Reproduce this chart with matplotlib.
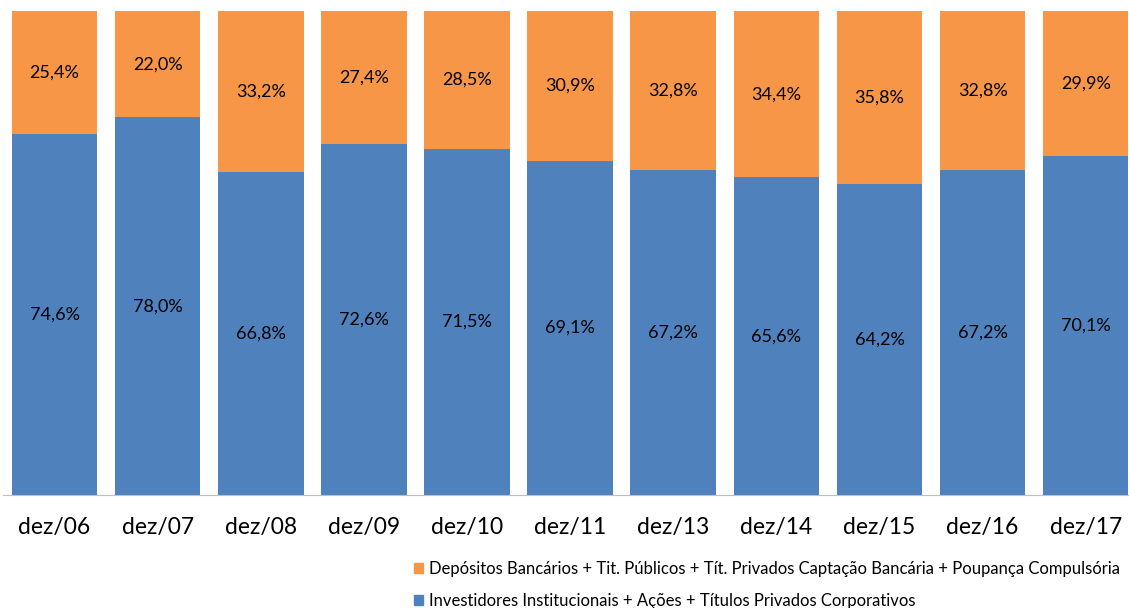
import matplotlib
matplotlib.use("Agg")
import matplotlib.pyplot as plt
from matplotlib.patches import Patch

categories = ["dez/06", "dez/07", "dez/08", "dez/09", "dez/10", "dez/11",
              "dez/13", "dez/14", "dez/15", "dez/16", "dez/17"]
investidores = [74.6, 78.0, 66.8, 72.6, 71.5, 69.1, 67.2, 65.6, 64.2, 67.2, 70.1]
depositos = [25.4, 22.0, 33.2, 27.4, 28.5, 30.9, 32.8, 34.4, 35.8, 32.8, 29.9]
labels_series = ["Depósitos Bancários + Tit. Públicos + Tít. Privados Captação Bancária + Poupança Compulsória",
                 "Investidores Institucionais + Ações + Títulos Privados Corporativos"]

blue = "#4F81BD"
orange = "#F79646"
plt.rcParams['font.family'] = ['Lato', 'DejaVu Sans']

W, H = 1129, 608
fig = plt.figure(figsize=(W/100, H/100), dpi=100)
ax = fig.add_axes([3/W, (H-495)/H, (W-3)/W, 484/H])

x = list(range(len(categories)))
bw = 0.83
ax.bar(x, investidores, width=bw, color=blue)
ax.bar(x, depositos, bottom=investidores, width=bw, color=orange)

def fmt(v):
    return f"{v:.1f}%".replace(".", ",")

for i in x:
    ax.text(i, investidores[i]/2, fmt(investidores[i]), ha="center", va="center", fontsize=13, color="black")
    ax.text(i, investidores[i] + depositos[i]/2, fmt(depositos[i]), ha="center", va="center", fontsize=13, color="black")

ax.set_xlim(-0.5, 10.42)
ax.set_ylim(0, 100)
ax.set_xticks(x)
ax.set_xticklabels(categories, fontsize=16.5)
ax.tick_params(axis="x", length=0, pad=16)
ax.set_yticks([])
for s in ["top", "right", "left"]:
    ax.spines[s].set_visible(False)
ax.spines["bottom"].set_color("#BFBFBF")

handles = [Patch(color=orange, label=labels_series[0]), Patch(color=blue, label=labels_series[1])]
fig.legend(handles=handles, loc="upper left", bbox_to_anchor=(414/W, 1 - 561/H), frameon=False,
           fontsize=12, handlelength=0.55, handleheight=0.55, handletextpad=0.35, labelspacing=0.95,
           borderpad=0, borderaxespad=0)

fig.savefig("out.png", dpi=100)
